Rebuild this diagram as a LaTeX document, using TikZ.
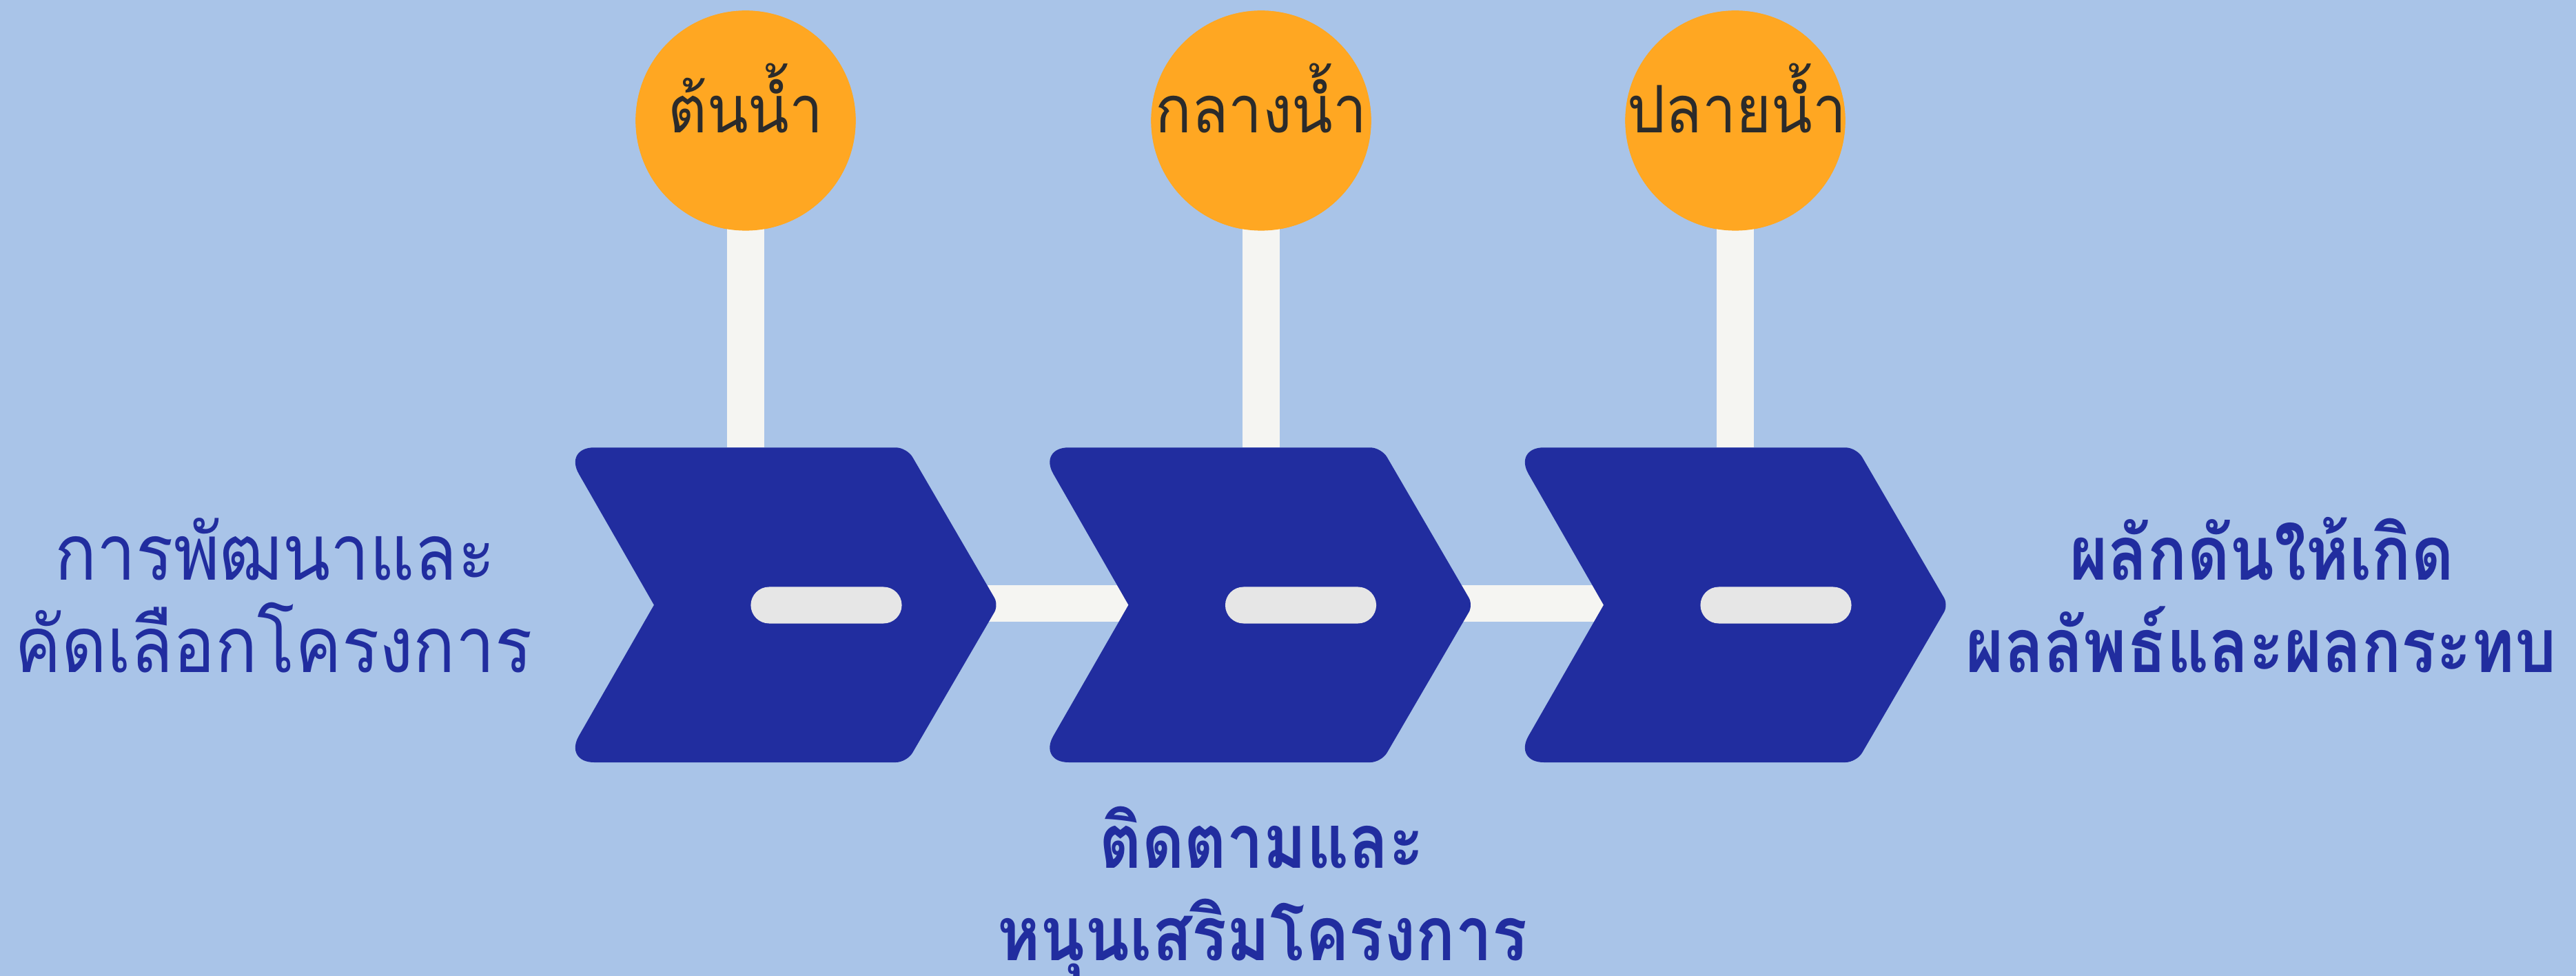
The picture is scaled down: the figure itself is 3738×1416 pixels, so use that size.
\documentclass[tikz,border=0pt]{standalone}
\usepackage{fontspec}
\newfontfamily\thaifont[Script=Thai,FakeStretch=0.92]{Loma}
\newfontfamily\thaileft[Script=Thai,FakeStretch=0.9]{Loma}
\newfontfamily\thaibold[Script=Thai,FakeStretch=0.87]{Loma}
\definecolor{bgc}{HTML}{A9C4E8}
\definecolor{chev}{HTML}{212D9F}
\definecolor{orng}{HTML}{FFA722}
\definecolor{stemc}{HTML}{F5F5F2}
\definecolor{pillc}{HTML}{E6E6E6}
\definecolor{dark}{HTML}{2B2B2B}
\begin{document}
\begin{tikzpicture}[x=0.01cm,y=-0.01cm,
  circ/.style={circle,fill=orng,minimum size=3.19cm,inner sep=0pt},
  ctext/.style={anchor=base,inner sep=0pt,text=dark,font=\thaifont\fontsize{27pt}{33pt}\selectfont},
  bar/.style={draw=stemc,line width=0.535cm},
  chevfill/.style={fill=chev},
  pillbox/.style={fill=pillc,minimum width=2.19cm,minimum height=0.53cm,rounded corners=0.265cm,inner sep=0pt},
  ltext/.style={anchor=base,inner sep=0pt,text=chev,font=\thaileft\fontsize{32pt}{38pt}\selectfont},
  btext/.style={anchor=base,inner sep=0pt,text=chev,font=\thaibold\bfseries\fontsize{31pt}{38pt}\selectfont}]
\fill[bgc] (0,0) rectangle (3738,1416);
\useasboundingbox (0,0) rectangle (3738,1416);
% circles
\node[circ] (c1) at (1082,175) {};
\node[circ] (c2) at (1830,175) {};
\node[circ] (c3) at (2518,175) {};
% chevron reference coordinates
\foreach \L/\i in {818/1,1506.5/2,2196/3}{
  \coordinate (notch\i) at ({\L+131},875.5);
  \coordinate (tip\i) at ({\L+631},875.5);
}
\coordinate (top1) at (1082,649.5);
\coordinate (top2) at (1830,649.5);
\coordinate (top3) at (2518,649.5);
% stems and connectors (behind)
\draw[bar] (c1.center) -- (top1);
\draw[bar] (c2.center) -- (top2);
\draw[bar] (c3.center) -- (top3);
\draw[bar] ([xshift=-0.3cm]tip1) -- ([xshift=0.3cm]notch2);
\draw[bar] ([xshift=-0.3cm]tip2) -- ([xshift=0.3cm]notch3);
% redraw circles on top
\node[circ] at (c1) {};
\node[circ] at (c2) {};
\node[circ] at (c3) {};
% chevrons
\foreach \L/\i in {818/1,1506.5/2,2196/3}{
  \fill[chevfill] ({\L+131},877.7) -- ({\L+21.9},1067.8)
     .. controls ({\L+9.9},1088.8) and ({\L+19.8},1106) .. ({\L+44},1106)
     -- ({\L+482},1106)
     .. controls ({\L+490.8},1106) and ({\L+501.6},1099.8) .. ({\L+506.1},1092.2)
     -- ({\L+625},888.1)
     .. controls ({\L+628.3},882.4) and ({\L+628.3},873.0) .. ({\L+625},867.3)
     -- ({\L+506.1},663.1)
     .. controls ({\L+501.6},655.5) and ({\L+490.8},649.3) .. ({\L+482},649.3)
     -- ({\L+44},649.3)
     .. controls ({\L+19.8},649.3) and ({\L+9.9},666.5) .. ({\L+21.9},687.5)
     -- cycle;
  \node[pillbox] (pill\i) at ({\L+381},878) {};
}
% circle labels
\node[ctext] (t1) at (1082,193) {ต้นน้ำ};
\node[ctext] (t2) at (1830,193) {กลางน้ำ};
\node[ctext] (t3) at (2520,193) {ปลายน้ำ};
% side labels
\node[ltext] (l1) at (399,842) {การพัฒนาและ};
\node[ltext] (l2) at (397,976) {คัดเลือกโครงการ};
\node[btext] (r1) at (3282,842) {ผลักดันให้เกิด};
\node[btext] (r2) at (3281,976) {ผลลัพธ์และผลกระทบ};
\node[btext] (b1) at (1831,1259) {ติดตามและ};
\node[btext] (b2) at (1832,1393) {หนุนเสริมโครงการ};
\end{tikzpicture}
\end{document}
